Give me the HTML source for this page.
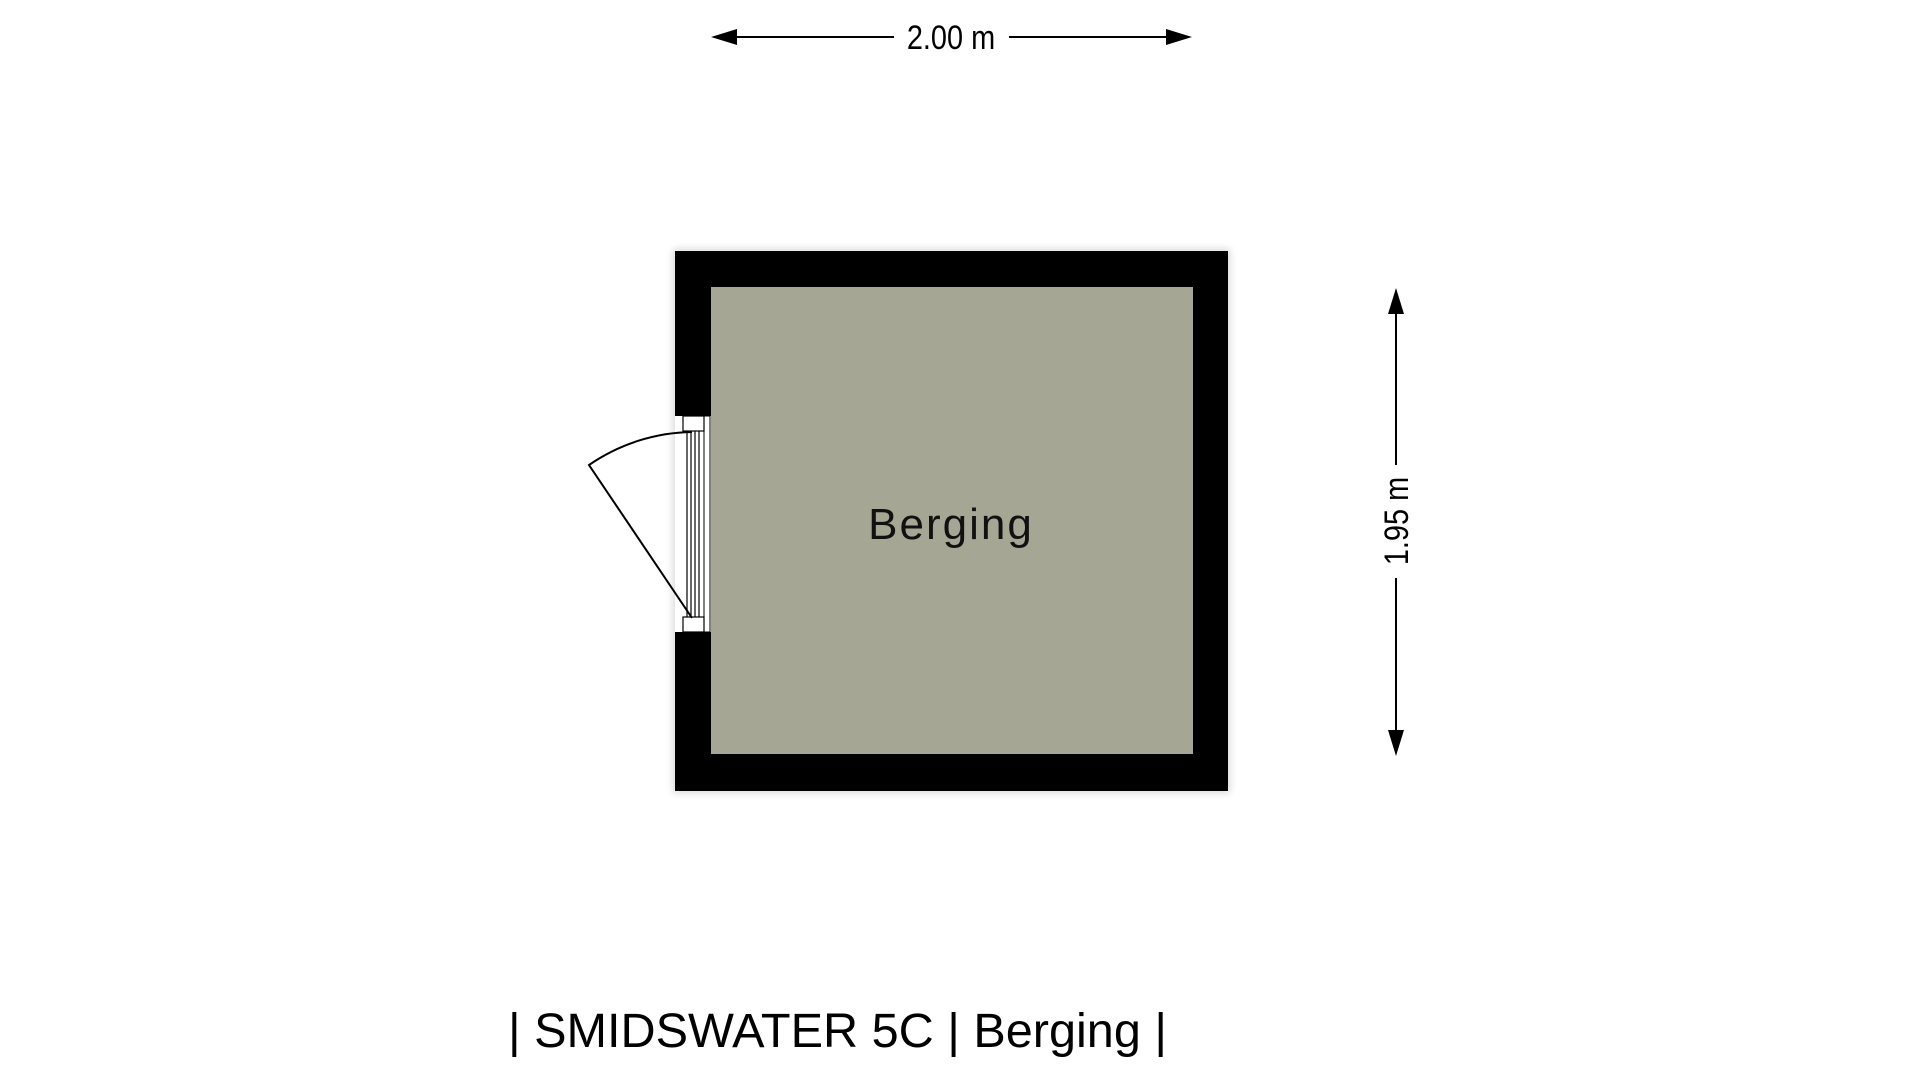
<!DOCTYPE html>
<html><head><meta charset="utf-8"><style>
html,body{margin:0;padding:0;background:#fff;width:1920px;height:1080px;overflow:hidden}
</style></head><body>
<svg width="1920" height="1080" viewBox="0 0 1920 1080" xmlns="http://www.w3.org/2000/svg">
<defs>
<filter id="sh" x="-10%" y="-10%" width="120%" height="120%"><feGaussianBlur stdDeviation="4"/></filter>
<filter id="inn" x="0" y="0" width="100%" height="100%">
<feFlood flood-color="#7f806f"/><feComposite in2="SourceAlpha" operator="out"/><feGaussianBlur stdDeviation="6"/><feComposite in2="SourceAlpha" operator="in"/>
<feMerge><feMergeNode in="SourceGraphic"/><feMergeNode/></feMerge></filter>
</defs>
<rect x="673" y="249" width="557" height="544" fill="#000" opacity="0.15" filter="url(#sh)"/>
<rect x="675" y="251" width="553" height="540" fill="#000"/>
<rect x="711" y="287" width="482" height="467" fill="#a5a694" filter="url(#inn)"/>
<!-- door opening -->
<rect x="675" y="416" width="36" height="216" fill="#fff"/>
<rect x="704" y="416" width="6" height="216" fill="#fff" stroke="#000" stroke-width="1"/>
<rect x="683" y="416" width="21" height="15" fill="#fff" stroke="#000" stroke-width="1.2"/>
<rect x="683" y="617" width="21" height="15" fill="#fff" stroke="#000" stroke-width="1.2"/>
<line x1="687" y1="431" x2="687" y2="617" stroke="#000" stroke-width="1.2"/>
<line x1="691" y1="431" x2="691" y2="617" stroke="#000" stroke-width="1.2"/>
<line x1="695" y1="431" x2="695" y2="617" stroke="#000" stroke-width="1.2"/>
<line x1="699" y1="431" x2="699" y2="617" stroke="#000" stroke-width="1.2"/>
<path d="M692 432 A186 186 0 0 0 589 465 L692 618" fill="none" stroke="#000" stroke-width="2"/>
<text x="951" y="539" text-anchor="middle" font-family="Liberation Sans, sans-serif" font-size="44" letter-spacing="2" fill="#111">Berging</text>
<!-- top dimension -->
<line x1="725" y1="37" x2="894" y2="37" stroke="#000" stroke-width="2"/>
<line x1="1009" y1="37" x2="1178" y2="37" stroke="#000" stroke-width="2"/>
<polygon points="711,37 737,29 737,45" fill="#000"/>
<polygon points="1192,37 1166,29 1166,45" fill="#000"/>
<text x="951" y="49" text-anchor="middle" font-family="Liberation Sans, sans-serif" font-size="34" transform="translate(951 0) scale(0.85 1) translate(-951 0)" fill="#000">2.00 m</text>
<!-- right dimension -->
<line x1="1396" y1="302" x2="1396" y2="465" stroke="#000" stroke-width="2"/>
<line x1="1396" y1="578" x2="1396" y2="742" stroke="#000" stroke-width="2"/>
<polygon points="1396,288 1388,314 1404,314" fill="#000"/>
<polygon points="1396,756 1388,730 1404,730" fill="#000"/>
<text x="0" y="0" text-anchor="middle" font-family="Liberation Sans, sans-serif" font-size="34" transform="translate(1408 521) rotate(-90) scale(0.85 1)" fill="#000">1.95 m</text>
<!-- title -->
<text x="508" y="1047" textLength="659" lengthAdjust="spacingAndGlyphs" font-family="Liberation Sans, sans-serif" font-size="48" fill="#000">| SMIDSWATER 5C | Berging |</text>
</svg>
</body></html>
